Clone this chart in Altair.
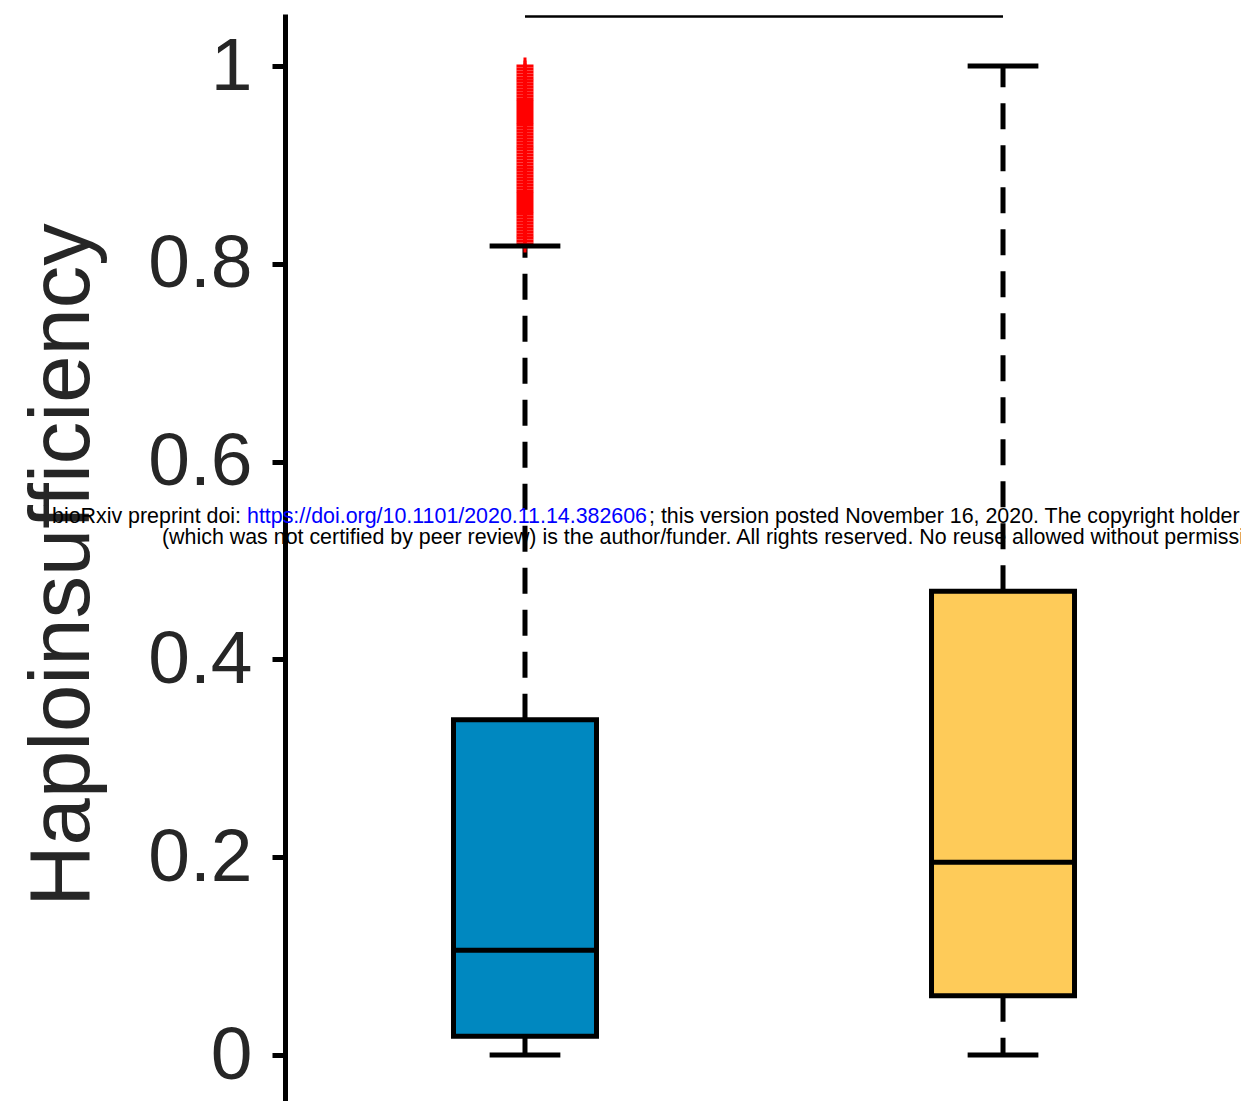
import altair as alt
import pandas as pd

# ---- data ----
group_pos = [1, 2]
q1 = [0.019, 0.060]
median = [0.106, 0.195]
q3 = [0.339, 0.469]
whisk_lo = [0.0, 0.0]
whisk_hi = [0.818, 1.0]
box_colors = ["#0088C0", "#FECB59"]

outliers_g1 = [
    0.820, 0.823, 0.826, 0.829, 0.832, 0.835, 0.838, 0.841, 0.844, 0.847,
    0.850, 0.853, 0.856, 0.859, 0.862, 0.865, 0.868, 0.871, 0.874, 0.877,
    0.880, 0.883, 0.886, 0.889, 0.892, 0.895, 0.898, 0.901, 0.904, 0.907,
    0.910, 0.913, 0.916, 0.919, 0.922, 0.925, 0.928, 0.931, 0.934, 0.937,
    0.940, 0.943, 0.946, 0.949, 0.952, 0.955, 0.958, 0.961, 0.964, 0.967,
    0.970, 0.973, 0.976, 0.979, 0.982, 0.985, 0.988, 0.991, 0.994, 0.997,
    1.000,
]

sig_x = [1, 2]
sig_y = 1.05

y_ticks = [0, 0.2, 0.4, 0.6, 0.8, 1.0]
y_domain = [-0.0465, 1.0526]
x_domain = [0.5084, 2.4874]

y_title = "Haploinsufficiency"
watermark_1a = "bioRxiv preprint doi: "
watermark_1b = "https://doi.org/10.1101/2020.11.14.382606"
watermark_1c = "; this version posted November 16, 2020. The copyright holder for this preprint"
watermark_2 = ("(which was not certified by peer review) is the author/funder. "
               "All rights reserved. No reuse allowed without permission.")

# ---- tables ----
boxes = pd.DataFrame({
    "pos": group_pos, "q1": q1, "med": median, "q3": q3,
    "lo": whisk_lo, "hi": whisk_hi, "color": box_colors,
})
outl = pd.DataFrame({"pos": [group_pos[0]] * len(outliers_g1), "v": outliers_g1})
sig = pd.DataFrame({"x1": [sig_x[0]], "x2": [sig_x[1]], "y": [sig_y]})

FONT = "Liberation Sans"
xscale = alt.Scale(domain=x_domain)
yscale = alt.Scale(domain=y_domain, nice=False, zero=False)
yaxis = alt.Axis(
    values=y_ticks, format="~g", grid=False, zindex=0,
    domainColor="black", domainWidth=5,
    tickColor="black", tickWidth=5, tickSize=13,
    labelFont=FONT, labelFontSize=75, labelColor="#262626", labelPadding=20,
)


def X(f):
    return alt.X(f, type="quantitative", scale=xscale, axis=None)


def Y(f):
    return alt.Y(f, type="quantitative", scale=yscale, axis=yaxis, title=None)


base = alt.Chart(boxes)

upper_wh = base.mark_rule(strokeDash=[26, 16], strokeWidth=5, color="black").encode(
    x=X("pos"), y=Y("q3"), y2="hi")
lower_wh = base.mark_rule(strokeDash=[26, 16], strokeWidth=5, color="black").encode(
    x=X("pos"), y=Y("q1"), y2="lo")

box = base.mark_bar(size=143, stroke="black", strokeWidth=5).encode(
    x=X("pos"), y=Y("q1"), y2="q3",
    color=alt.Color("color:N", scale=None))

med = base.transform_calculate(xl="datum.pos - 0.1485", xr="datum.pos + 0.1485").mark_rule(
    strokeWidth=5, color="black").encode(x=X("xl"), x2="xr", y=Y("med"))

out = alt.Chart(outl).mark_point(
    shape="M-1,0L1,0M0,-1L0,1", filled=False, color="red", strokeWidth=3,
    size=289, opacity=1).encode(x=X("pos"), y=Y("v"))

cap_hi = base.transform_calculate(xl="datum.pos - 0.074", xr="datum.pos + 0.074").mark_rule(
    strokeWidth=5, color="black").encode(x=X("xl"), x2="xr", y=Y("hi"))
cap_lo = base.transform_calculate(xl="datum.pos - 0.074", xr="datum.pos + 0.074").mark_rule(
    strokeWidth=5, color="black").encode(x=X("xl"), x2="xr", y=Y("lo"))

sig_bar = alt.Chart(sig).mark_rule(strokeWidth=2.5, color="black").encode(
    x=X("x1"), x2="x2", y=Y("y"))

title_mark = alt.Chart(pd.DataFrame({"t": [y_title]})).mark_text(
    angle=270, align="center", baseline="middle", font=FONT, fontSize=85,
    color="#262626"
).encode(text="t:N", x=alt.value(-222), y=alt.value(551))


def wm(txt, x, y, color="black"):
    return alt.Chart(pd.DataFrame({"t": [txt]})).mark_text(
        align="left", baseline="alphabetic", font=FONT, fontSize=21.4, color=color
    ).encode(text="t:N", x=alt.value(x), y=alt.value(y))


marks = alt.layer(
    upper_wh, lower_wh, box, med, out, cap_hi, cap_lo, sig_bar, title_mark,
    wm(watermark_1a, -233, 509),
    wm(watermark_1b, -38, 509, "#0000FF"),
    wm(watermark_1c, 364, 509),
    wm(watermark_2, -123, 530),
)

chart = marks.properties(
    width=956, height=1087,
    autosize=alt.AutoSizeParams(type="none"),
    padding={"left": 285, "top": 14, "right": 0, "bottom": 0},
).configure(background="white").configure_view(stroke=None, strokeWidth=0)

chart.save("out.html", embed_options={"renderer": "svg", "actions": False})
